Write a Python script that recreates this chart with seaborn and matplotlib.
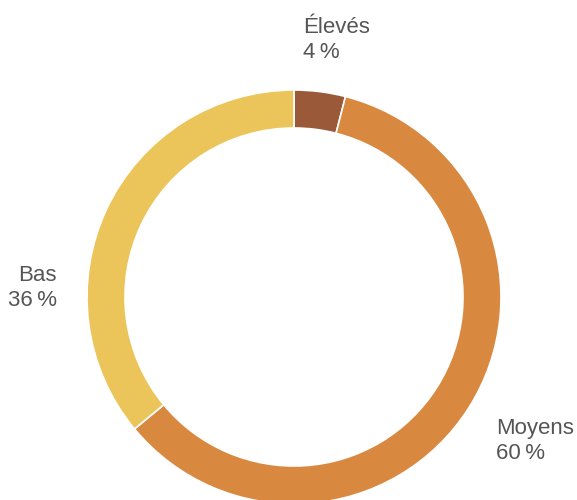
import matplotlib.pyplot as plt
import seaborn as sns

labels = ["Élevés", "Moyens", "Bas"]
shares = [4, 60, 36]
colors = ["#9a5a3a", "#d9893f", "#ebc55a"]

sns.set_theme(style="white")
plt.rcParams['font.family'] = ['Liberation Sans', 'DejaVu Sans']

fig = plt.figure(figsize=(5.77, 5.0), dpi=100)
ax = fig.add_axes([0, 0, 1, 1])

# pixel-like coordinates, y up
cx, cy, r = 294, 203, 207
ax.pie(shares, colors=colors, startangle=90, counterclock=False,
       center=(cx, cy), radius=r,
       wedgeprops=dict(width=38, edgecolor="white", linewidth=1.2))
ax.set_xlim(0, 577)
ax.set_ylim(0, 500)
ax.set_aspect("equal")
ax.axis("off")

txt = dict(fontsize=16, color="#555555", linespacing=1.25)
ax.text(303, 460, f"{labels[0]}\n{shares[0]}\u2009%", ha="left", va="center", **txt)
ax.text(496, 59, f"{labels[1]}\n{shares[1]}\u2009%", ha="left", va="center", **txt)
ax.text(57, 212, f"{labels[2]}\n{shares[2]}\u2009%", ha="right", va="center",
        multialignment="right", **txt)

fig.savefig("out.png", dpi=100)
